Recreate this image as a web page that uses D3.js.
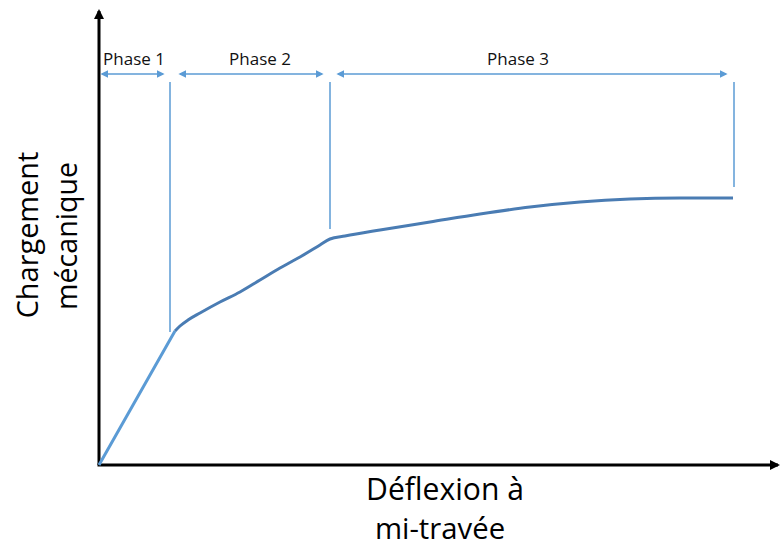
<!DOCTYPE html>
<html>
<head>
<meta charset="utf-8">
<script src="https://cdn.jsdelivr.net/npm/d3@7"></script>
<style>
  body { margin: 0; background: #fff; }
  text { font-family: "Open Sans", "Noto Sans", sans-serif; }
</style>
</head>
<body>
<script>
// courbe charge / deflexion (unites arbitraires)
var deflexion = [0, 72, 76, 81, 89, 101, 121, 141, 161, 181, 201, 221, 231, 246, 281, 331, 381, 431, 481, 531, 581, 634];
var charge    = [0, 127, 134, 139, 145, 152, 163, 173, 185, 197, 208, 220, 226, 229, 235, 243, 251, 258, 263, 266, 267, 267];

var phases = ["Phase 1", "Phase 2", "Phase 3"];
var bornes = [0, 71, 231, 635];          // limites des phases
var basLignes = [133, 236, 278];         // bas des traits verticaux
var hautLignes = 383;
var niveauFleche = 391;

var w = 781, h = 547;

var x = d3.scaleLinear().domain([0, 680]).range([99, 779]);
var y = d3.scaleLinear().domain([0, 455]).range([465, 10]);

var svg = d3.select("body").append("svg")
    .attr("width", w)
    .attr("height", h);

var defs = svg.append("defs");
function marker(id, color, size) {
    defs.append("marker")
        .attr("id", id)
        .attr("viewBox", "0 0 10 10")
        .attr("refX", 8).attr("refY", 5)
        .attr("markerWidth", size).attr("markerHeight", size)
        .attr("markerUnits", "userSpaceOnUse")
        .attr("orient", "auto-start-reverse")
        .append("path")
        .attr("d", "M0,0 L10,5 L0,10 Z")
        .attr("fill", color);
}
marker("axe", "#000", 10);
marker("bleu", "#5b9bd5", 8);

// axes
svg.append("line")
    .attr("x1", x(0)).attr("y1", y(0))
    .attr("x2", x(0)).attr("y2", y(455) + 1)
    .attr("stroke", "#000").attr("stroke-width", 3)
    .attr("marker-end", "url(#axe)");
svg.append("line")
    .attr("x1", x(0) - 1.5).attr("y1", y(0))
    .attr("x2", x(680) - 1).attr("y2", y(0))
    .attr("stroke", "#000").attr("stroke-width", 3)
    .attr("marker-end", "url(#axe)");

// traits verticaux de phase
svg.selectAll(".limite")
    .data(bornes.slice(1))
    .enter().append("line")
    .attr("class", "limite")
    .attr("x1", function(d) { return x(d); })
    .attr("x2", function(d) { return x(d); })
    .attr("y1", y(hautLignes))
    .attr("y2", function(d, i) { return y(basLignes[i]); })
    .attr("stroke", "#5b9bd5").attr("stroke-width", 1.5);

// fleches
var marges = [[3, 7], [10, 8], [8, 8]];
svg.selectAll(".fleche")
    .data(phases)
    .enter().append("line")
    .attr("class", "fleche")
    .attr("x1", function(d, i) { return x(bornes[i] + marges[i][0]); })
    .attr("x2", function(d, i) { return x(bornes[i + 1] - marges[i][1]); })
    .attr("y1", y(niveauFleche)).attr("y2", y(niveauFleche))
    .attr("stroke", "#5b9bd5").attr("stroke-width", 1.5)
    .attr("marker-start", "url(#bleu)")
    .attr("marker-end", "url(#bleu)");

// ajuste la taille de police a une largeur voulue
function ajuste(t, largeur) {
    var fs = +t.attr("font-size");
    var l = t.node().getComputedTextLength();
    t.attr("font-size", (fs * largeur / l).toFixed(1));
    return t;
}

var centres = [134, 260, 518];
svg.selectAll(".phase")
    .data(phases)
    .enter().append("text")
    .attr("class", "phase")
    .attr("x", function(d, i) { return centres[i]; })
    .attr("y", 65)
    .attr("text-anchor", "middle")
    .attr("font-size", 16)
    .attr("fill", "#111")
    .text(function(d) { return d; })
    .each(function() { ajuste(d3.select(this), 62); });

// courbe
var pts = deflexion.map(function(d, i) { return [d, charge[i]]; });
var line = d3.line()
    .x(function(d) { return x(d[0]); })
    .y(function(d) { return y(d[1]); });

svg.append("path")
    .datum(pts.slice(0, 3))
    .attr("d", line)
    .attr("fill", "none")
    .attr("stroke", "#5b9bd5").attr("stroke-width", 3)
    .attr("stroke-linejoin", "round");
svg.append("path")
    .datum(pts.slice(2))
    .attr("d", line.curve(d3.curveMonotoneX))
    .attr("fill", "none")
    .attr("stroke", "#4a7cb3").attr("stroke-width", 3)
    .attr("stroke-linejoin", "round");

// titre sur deux lignes, dans un seul element texte
function titre(lignes, tx, ty, rot) {
    var t = svg.append("text")
        .attr("transform", "translate(" + tx + "," + ty + ")" + (rot ? " rotate(-90)" : ""))
        .attr("text-anchor", "middle")
        .attr("fill", "#000");
    lignes.forEach(function(l) {
        var s = t.append("tspan")
            .attr("x", l.dx).attr("y", l.dy)
            .attr("font-size", 28)
            .text(l.txt);
        ajuste(s, l.largeur);
    });
    return t;
}

// titres des axes
titre([{txt: "Chargement", dx: 1, dy: 38, largeur: 167},
       {txt: "mécanique", dx: 0, dy: 77, largeur: 148}], 0, 236, true);
titre([{txt: "Déflexion à", dx: 445, dy: 500, largeur: 158},
       {txt: "mi-travée", dx: 440, dy: 539, largeur: 130}], 0, 0, false);
</script>
</body>
</html>
